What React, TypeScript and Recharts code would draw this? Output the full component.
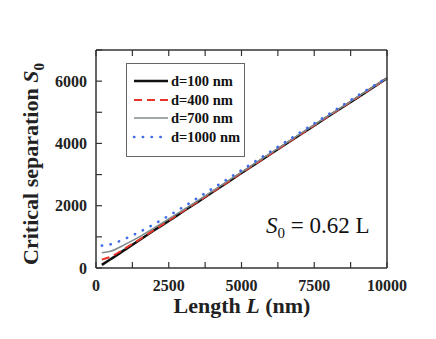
import { LineChart, Line, XAxis, YAxis, Legend } from 'recharts';

const lengths = [200, 500, 1000, 1500, 2000, 2500, 3000, 4000, 5000, 6000, 7000, 8000, 9000, 10000];
const d100 = [100, 280, 590, 900, 1210, 1510, 1820, 2430, 3050, 3660, 4270, 4880, 5480, 6090];
const d400 = [270, 360, 630, 920, 1225, 1525, 1830, 2440, 3055, 3665, 4275, 4885, 5485, 6090];
const d700 = [490, 535, 760, 1010, 1290, 1580, 1870, 2470, 3080, 3690, 4295, 4900, 5500, 6100];
const d1000 = [720, 760, 940, 1160, 1410, 1680, 1960, 2550, 3140, 3740, 4340, 4940, 5540, 6110];

const xTicks = [0, 1250, 2500, 3750, 5000, 6250, 7500, 8750, 10000];
const yTicks = [0, 1000, 2000, 3000, 4000, 5000, 6000, 7000];

const data = lengths.map((L, i) => ({ L, d100: d100[i], d400: d400[i], d700: d700[i], d1000: d1000[i] }));

const series = [
  { key: 'd100', name: 'd=100 nm', color: '#111111', width: 2.5, dash: undefined, cap: 'butt' },
  { key: 'd400', name: 'd=400 nm', color: '#e8332b', width: 2, dash: '8 5', cap: 'butt' },
  { key: 'd700', name: 'd=700 nm', color: '#7f8c8a', width: 1.5, dash: undefined, cap: 'butt' },
  { key: 'd1000', name: 'd=1000 nm', color: '#3f6be8', width: 2.6, dash: '0.3 8.5', cap: 'round' },
];

const FONT = "'Liberation Serif', 'DejaVu Serif', serif";
const AXIS = '#333';

const BottomTick = ({ x, y, payload }: any) => (
  <g>
    <line x1={x} x2={x} y1={y} y2={y - 6} stroke={AXIS} strokeWidth={1.2} />
    {payload.value % 2500 === 0 && (
      <text x={x} y={y + 23} textAnchor="middle" fontFamily={FONT} fontWeight="bold" fontSize={16} fill="#222">
        {payload.value}
      </text>
    )}
  </g>
);

const TopTick = ({ x, y }: any) => <line x1={x} x2={x} y1={y} y2={y + 6} stroke={AXIS} strokeWidth={1.2} />;

const LeftTick = ({ x, y, payload }: any) => (
  <g>
    <line x1={x} x2={x + 6} y1={y} y2={y} stroke={AXIS} strokeWidth={1.2} />
    {payload.value % 2000 === 0 && (
      <text x={x - 9} y={y} dy="0.35em" textAnchor="end" fontFamily={FONT} fontWeight="bold" fontSize={16} fill="#222">
        {payload.value}
      </text>
    )}
  </g>
);

const RightTick = ({ x, y }: any) => <line x1={x} x2={x - 6} y1={y} y2={y} stroke={AXIS} strokeWidth={1.2} />;

const LegendBox = () => (
  <div
    style={{
      border: '1px solid #666',
      background: '#fff',
      width: 117,
      height: 84,
      boxSizing: 'content-box',
      paddingTop: 8,
      fontFamily: FONT,
      fontWeight: 'bold',
      fontSize: 14.5,
      color: '#111',
    }}
  >
    {series.map((s) => (
      <div key={s.key} style={{ display: 'flex', alignItems: 'center', height: 18.6, lineHeight: '18.6px' }}>
        <svg width={44} height={10} style={{ flex: 'none' }}>
          <line
            x1={7}
            x2={41}
            y1={5}
            y2={5}
            stroke={s.color}
            strokeWidth={s.width}
            strokeDasharray={s.dash}
            strokeLinecap={s.cap as any}
          />
        </svg>
        <span style={{ whiteSpace: 'nowrap' }}>{s.name}</span>
      </div>
    ))}
  </div>
);

export default function App() {
  return (
    <div style={{ position: 'absolute', left: 0, top: 0, width: 436, height: 339, background: '#fff' }}>
      <LineChart width={436} height={339} data={data} margin={{ top: 20, right: 0, bottom: 0, left: 36 }}>
        <XAxis
          xAxisId="b"
          dataKey="L"
          type="number"
          domain={[0, 10000]}
          ticks={xTicks}
          interval={0}
          height={71}
          tickSize={0}
          tickMargin={0}
          tick={<BottomTick />}
          axisLine={{ stroke: AXIS, strokeWidth: 1.5 }}
          tickLine={false}
        />
        <XAxis
          xAxisId="t"
          orientation="top"
          dataKey="L"
          type="number"
          domain={[0, 10000]}
          ticks={xTicks}
          interval={0}
          height={30}
          tickSize={0}
          tickMargin={0}
          tick={<TopTick />}
          axisLine={{ stroke: AXIS, strokeWidth: 1.5 }}
          tickLine={false}
        />
        <YAxis
          yAxisId="l"
          type="number"
          domain={[0, 7000]}
          ticks={yTicks}
          interval={0}
          width={60}
          tickSize={0}
          tickMargin={0}
          tick={<LeftTick />}
          axisLine={{ stroke: AXIS, strokeWidth: 1.5 }}
          tickLine={false}
        />
        <YAxis
          yAxisId="r"
          orientation="right"
          type="number"
          domain={[0, 7000]}
          ticks={yTicks}
          interval={0}
          width={49}
          tickSize={0}
          tickMargin={0}
          tick={<RightTick />}
          axisLine={{ stroke: AXIS, strokeWidth: 1.5 }}
          tickLine={false}
        />
        {series.map((s) => (
          <Line
            key={s.key}
            xAxisId="b"
            yAxisId="l"
            type="monotone"
            dataKey={s.key}
            name={s.name}
            stroke={s.color}
            strokeWidth={s.width}
            strokeDasharray={s.dash}
            strokeLinecap={s.cap as any}
            dot={false}
            isAnimationActive={false}
          />
        ))}
        <Legend
          layout="vertical"
          align="center"
          verticalAlign="middle"
          content={<LegendBox />}
          wrapperStyle={{ left: 126, top: 63, width: 119, height: 93 }}
        />
        <text
          transform="translate(38,164) rotate(-90)"
          textAnchor="middle"
          fontFamily={FONT}
          fontWeight="bold"
          fontSize={22}
          fill="#222"
        >
          Critical separation <tspan fontStyle="italic">S</tspan>
          <tspan fontSize={15} dy={6}>0</tspan>
        </text>
        <text x={242} y={313} textAnchor="middle" fontFamily={FONT} fontWeight="bold" fontSize={22} fill="#222">
          Length <tspan fontStyle="italic">L</tspan> (nm)
        </text>
        <text x={266} y={233} fontFamily={FONT} fontSize={23} fill="#111">
          <tspan fontStyle="italic">S</tspan>
          <tspan fontSize={15} dy={5}>0</tspan>
          <tspan dy={-5}> = 0.62 L</tspan>
        </text>
      </LineChart>
    </div>
  );
}
